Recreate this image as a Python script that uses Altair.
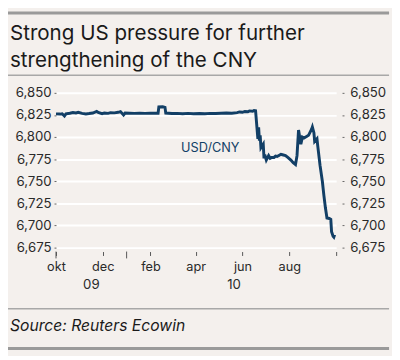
import altair as alt
import pandas as pd

# ---- data ----
dates = [
    "2009-10-01", "2009-10-06", "2009-10-09", "2009-10-12", "2009-10-14", "2009-10-19",
    "2009-10-23", "2009-10-27", "2009-10-30", "2009-11-04", "2009-11-09", "2009-11-13",
    "2009-11-18", "2009-11-23", "2009-11-25", "2009-11-30", "2009-12-03", "2009-12-08",
    "2009-12-11", "2009-12-16", "2009-12-21", "2009-12-24", "2009-12-28", "2009-12-30",
    "2010-01-05", "2010-01-11", "2010-01-18", "2010-01-25", "2010-02-01", "2010-02-11",
    "2010-02-12", "2010-02-17", "2010-02-20", "2010-02-21", "2010-03-01", "2010-03-08",
    "2010-03-15", "2010-03-22", "2010-03-29", "2010-04-06", "2010-04-13", "2010-04-20",
    "2010-04-27", "2010-05-04", "2010-05-11", "2010-05-18", "2010-05-25", "2010-05-28",
    "2010-06-01", "2010-06-04", "2010-06-08", "2010-06-10", "2010-06-14", "2010-06-16",
    "2010-06-18", "2010-06-21", "2010-06-22", "2010-06-23", "2010-06-24", "2010-06-25",
    "2010-06-28", "2010-06-29", "2010-06-30", "2010-07-02", "2010-07-05", "2010-07-07",
    "2010-07-09", "2010-07-12", "2010-07-14", "2010-07-16", "2010-07-19", "2010-07-21",
    "2010-07-23", "2010-07-27", "2010-07-30", "2010-08-03", "2010-08-06", "2010-08-09",
    "2010-08-11", "2010-08-13", "2010-08-16", "2010-08-18", "2010-08-20", "2010-08-24",
    "2010-08-26", "2010-08-30", "2010-08-31", "2010-09-02", "2010-09-03", "2010-09-06",
    "2010-09-07", "2010-09-10", "2010-09-13", "2010-09-15", "2010-09-17", "2010-09-19",
    "2010-09-22", "2010-09-24", "2010-09-25", "2010-09-27", "2010-09-28", "2010-09-29",
]
usdcny = [
    6.8262, 6.8260, 6.8264, 6.8238, 6.8262, 6.8270,
    6.8278, 6.8272, 6.8280, 6.8268, 6.8262, 6.8266,
    6.8272, 6.8290, 6.8278, 6.8264, 6.8272, 6.8268,
    6.8276, 6.8274, 6.8280, 6.8288, 6.8250, 6.8272,
    6.8270, 6.8268, 6.8270, 6.8268, 6.8270, 6.8270,
    6.8340, 6.8342, 6.8336, 6.8272, 6.8266, 6.8268,
    6.8264, 6.8268, 6.8264, 6.8266, 6.8264, 6.8268,
    6.8266, 6.8270, 6.8272, 6.8270, 6.8276, 6.8284,
    6.8280, 6.8290, 6.8286, 6.8296, 6.8292, 6.8300,
    6.8298, 6.7980, 6.8110, 6.7960, 6.8020, 6.7880,
    6.7920, 6.7760, 6.7800, 6.7740, 6.7790, 6.7760,
    6.7770, 6.7770, 6.7785, 6.7780, 6.7795, 6.7805,
    6.7800, 6.7790, 6.7770, 6.7740, 6.7710, 6.7690,
    6.7790, 6.8080, 6.7920, 6.8000, 6.7990, 6.8010,
    6.8020, 6.8090, 6.8115, 6.8050, 6.7950, 6.7980,
    6.7900, 6.7680, 6.7500, 6.7340, 6.7200, 6.7085,
    6.7080, 6.7070, 6.6930, 6.6880, 6.6870, 6.6895,
]

y_ticks = [6.675, 6.700, 6.725, 6.750, 6.775, 6.800, 6.825, 6.850]
month_ticks = [(2009, 10), (2009, 11), (2009, 12), (2010, 1), (2010, 2), (2010, 3),
               (2010, 4), (2010, 5), (2010, 6), (2010, 7), (2010, 8), (2010, 9), (2010, 10)]
month_labels = ["okt", "", "dec", "", "feb", "", "apr", "", "jun", "", "aug", "", ""]
major_tick_dates = ["2009-10-01", "2010-01-01"]
year_labels = ["09", "10"]
year_label_dates = ["2009-11-16", "2010-05-21"]

series_label = "USD/CNY"
series_label_date = ["2010-03-13"]
series_label_value = [6.787]

title_lines = ["Strong US pressure for further", "strengthening of the CNY"]
source_text = "Source: Reuters Ecowin"

# ---- styling ----
FONT = "Inter"
BG = "#f4f0ed"
LINE = "#123f66"
TXT = "#2a2a2a"
W, H = 286, 158

df = pd.DataFrame({"date": dates, "value": usdcny})
one = pd.DataFrame({"k": [0]})

xscale = alt.Scale(type="utc",
                   domain=[alt.DateTime(year=2009, month=10, date=1, utc=True),
                           alt.DateTime(year=2010, month=10, date=1, utc=True)])
yscale = alt.Scale(domain=[6.675, 6.85], zero=False, nice=False)

label_expr = "''"
for (yy, mm), lab in reversed(list(zip(month_ticks, month_labels))):
    if lab:
        label_expr = f"utcFormat(datum.value,'%Y-%m')=='{yy}-{mm:02d}' ? '{lab}' : ({label_expr})"

xaxis = alt.Axis(
    values=[alt.DateTime(year=yy, month=mm, date=1, utc=True) for yy, mm in month_ticks],
    labelExpr=label_expr, title=None, domain=False, grid=False,
    ticks=True, tickSize=4, tickColor="#555555", tickWidth=1, offset=4,
    labelPadding=5, labelFont=FONT, labelFontSize=13, labelColor=TXT, labelAngle=0,
    labelFlush=False, labelOverlap=False,
)

yfmt = "replace(format(datum.value, '.3f'), '.', ',')"
yaxis_left = alt.Axis(
    values=y_ticks, labelExpr=yfmt, title=None, domain=False,
    grid=True, gridColor="white", gridWidth=2,
    tickSize=2, tickColor="#666666", labelPadding=3,
    labelFont=FONT, labelFontSize=13.5, labelColor=TXT, orient="left",
)
yaxis_right = alt.Axis(
    values=y_ticks, labelExpr=yfmt, title=None, domain=False, grid=False,
    tickSize=2, tickColor="#666666", labelPadding=6, offset=6,
    labelFont=FONT, labelFontSize=13.5, labelColor=TXT, orient="right",
)

line = alt.Chart(df).mark_line(color=LINE, strokeWidth=3).encode(
    x=alt.X("date:T", scale=xscale, axis=xaxis),
    y=alt.Y("value:Q", scale=yscale, axis=yaxis_left),
)

lab_df = pd.DataFrame({"date": series_label_date, "value": series_label_value})
series_text = alt.Chart(lab_df).mark_text(
    text=series_label, align="left", baseline="middle", font=FONT, fontSize=13, color=LINE
).encode(
    x=alt.X("date:T"),
    y=alt.Y("value:Q", axis=yaxis_right),
)

major_df = pd.DataFrame({"date": major_tick_dates})
major_ticks = alt.Chart(major_df).mark_rule(color="#555555", strokeWidth=1).encode(
    x=alt.X("date:T"), y=alt.value(H + 4), y2=alt.value(H + 11)
)

yr_df = pd.DataFrame({"date": year_label_dates, "label": year_labels})
years = alt.Chart(yr_df).mark_text(
    baseline="middle", align="center", font=FONT, fontSize=13.5, color=TXT
).encode(x=alt.X("date:T"), y=alt.value(H + 38), text="label:N")

def hrule(y, color, width):
    return alt.Chart(one).mark_rule(color=color, strokeWidth=width).encode(
        x=alt.value(-49), x2=alt.value(340), y=alt.value(y)
    )

def txt(s, x, y, size, style="normal", baseline="alphabetic"):
    return alt.Chart(one).mark_text(
        text=s, align="left", baseline=baseline, font=FONT, fontSize=size,
        fontStyle=style, color="#1a1a1a"
    ).encode(x=alt.value(x), y=alt.value(y))

deco = [
    hrule(-81.5, "#9a9a9a", 3),
    txt(title_lines[0], -47, -54, 21),
    txt(title_lines[1], -47, -26, 21),
    hrule(-18, "#a8a8a8", 1.5),
    hrule(220.5, "#a8a8a8", 1.5),
    txt(source_text, -47, 238, 16, style="italic", baseline="middle"),
    hrule(261, "#9a9a9a", 3),
]

chart = alt.layer(line, series_text, major_ticks, years, *deco).resolve_axis(
    y="independent"
).resolve_scale(y="shared").properties(
    width=W, height=H,
    padding={"left": 49, "top": 83, "right": 57, "bottom": 107},
    autosize=alt.AutoSizeParams(type="none"),
    background=BG,
).configure_view(stroke=None)

chart.save("out.html", embed_options={"renderer": "svg", "actions": False})
